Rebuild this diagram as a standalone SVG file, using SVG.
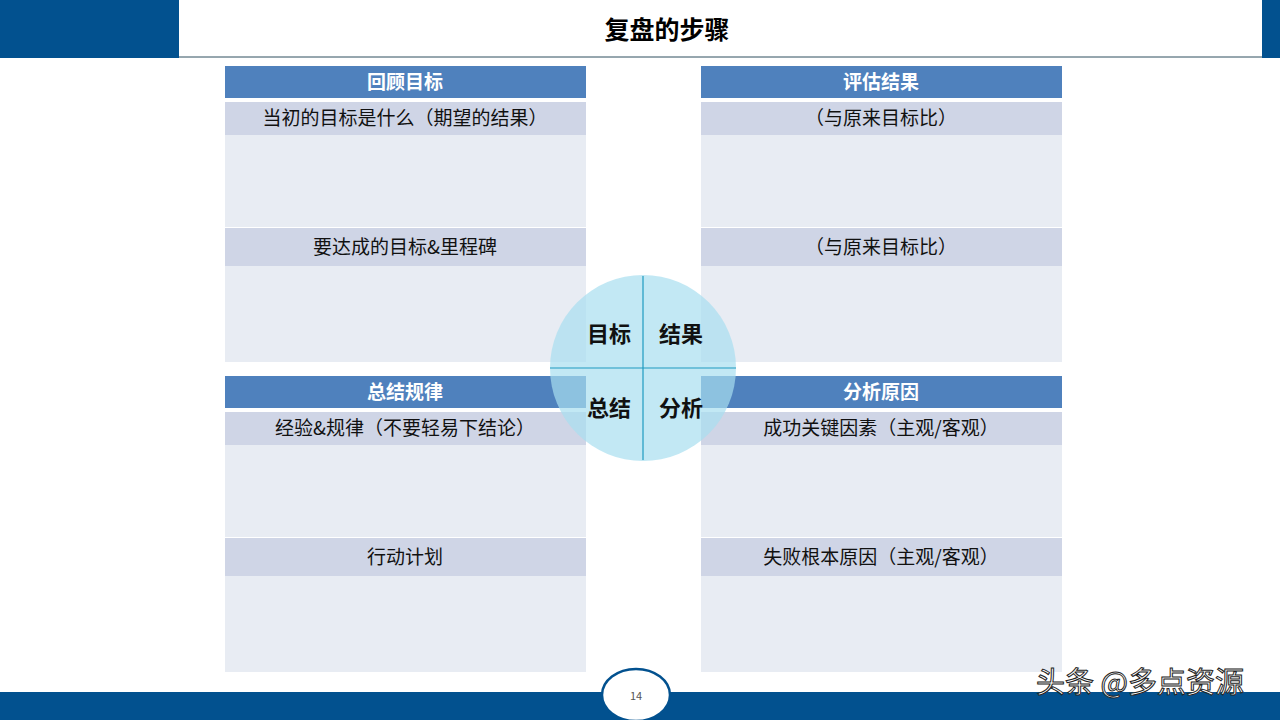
<svg xmlns="http://www.w3.org/2000/svg" width="1280" height="720" viewBox="0 0 1280 720">
<style>
text{font-family:"Noto Sans CJK SC","Liberation Sans",sans-serif;text-anchor:middle}
.hd{fill:#4f81bd}.row{fill:#cfd5e6}.body{fill:#e8ecf3}
.ht{fill:#fff;font-size:19px;font-weight:bold}
.rt{fill:#111;font-size:19px}
.ct{fill:#111;font-size:22px;font-weight:bold}
</style>
<rect width="1280" height="720" fill="#fff"/>
<g id="header">
<rect x="0" y="0" width="179" height="58" fill="#02518f"/>
<rect x="1262" y="0" width="18" height="58" fill="#02518f"/>
<line x1="179" y1="57" x2="1262" y2="57" stroke="#2f4f5f" stroke-width="1"/>
<text x="667" y="39" style="font-size:25px;font-weight:bold;fill:#000">复盘的步骤</text>
</g>
<g id="p1">
<rect class="hd" x="225" y="66" width="361" height="32"/><text class="ht" x="405" y="89">回顾目标</text>
<rect class="row" x="225" y="102" width="361" height="33"/><text class="rt" x="405" y="125">当初的目标是什么（期望的结果）</text>
<rect class="body" x="225" y="135" width="361" height="92"/>
<rect class="row" x="225" y="228" width="361" height="38"/><text class="rt" x="405" y="254">要达成的目标&amp;里程碑</text>
<rect class="body" x="225" y="266" width="361" height="96"/>
</g>
<g id="p2">
<rect class="hd" x="701" y="66" width="361" height="32"/><text class="ht" x="881" y="89">评估结果</text>
<rect class="row" x="701" y="102" width="361" height="33"/><text class="rt" x="881" y="125">（与原来目标比）</text>
<rect class="body" x="701" y="135" width="361" height="92"/>
<rect class="row" x="701" y="228" width="361" height="38"/><text class="rt" x="881" y="254">（与原来目标比）</text>
<rect class="body" x="701" y="266" width="361" height="96"/>
</g>
<g id="p3">
<rect class="hd" x="225" y="376" width="361" height="32"/><text class="ht" x="405" y="399">总结规律</text>
<rect class="row" x="225" y="412" width="361" height="33"/><text class="rt" x="405" y="435">经验&amp;规律（不要轻易下结论）</text>
<rect class="body" x="225" y="445" width="361" height="92"/>
<rect class="row" x="225" y="538" width="361" height="38"/><text class="rt" x="405" y="564">行动计划</text>
<rect class="body" x="225" y="576" width="361" height="96"/>
</g>
<g id="p4">
<rect class="hd" x="701" y="376" width="361" height="32"/><text class="ht" x="881" y="399">分析原因</text>
<rect class="row" x="701" y="412" width="361" height="33"/><text class="rt" x="881" y="435">成功关键因素（主观/客观）</text>
<rect class="body" x="701" y="445" width="361" height="92"/>
<rect class="row" x="701" y="538" width="361" height="38"/><text class="rt" x="881" y="564">失败根本原因（主观/客观）</text>
<rect class="body" x="701" y="576" width="361" height="96"/>
</g>
<g id="center">
<circle cx="643" cy="368" r="93" fill="#a8def0" fill-opacity="0.7"/>
<line x1="643" y1="276" x2="643" y2="460" stroke="#1e9ac0" stroke-width="1.2"/>
<line x1="550" y1="368" x2="736" y2="368" stroke="#1e9ac0" stroke-width="1.2"/>
<text class="ct" x="609" y="342">目标</text>
<text class="ct" x="681" y="342">结果</text>
<text class="ct" x="609" y="416">总结</text>
<text class="ct" x="681" y="416">分析</text>
</g>
<g id="footer">
<rect x="0" y="692" width="1280" height="28" fill="#02518f"/>
<ellipse cx="636" cy="695" rx="34" ry="26" fill="#fff" stroke="#02518f" stroke-width="2.5"/>
<text x="636" y="700" style="font-size:11px;fill:#555">14</text>
<text x="1140" y="693" style="font-size:29px;fill:#fff;stroke:#222;stroke-width:1">头条 @多点资源</text>
</g>
</svg>
